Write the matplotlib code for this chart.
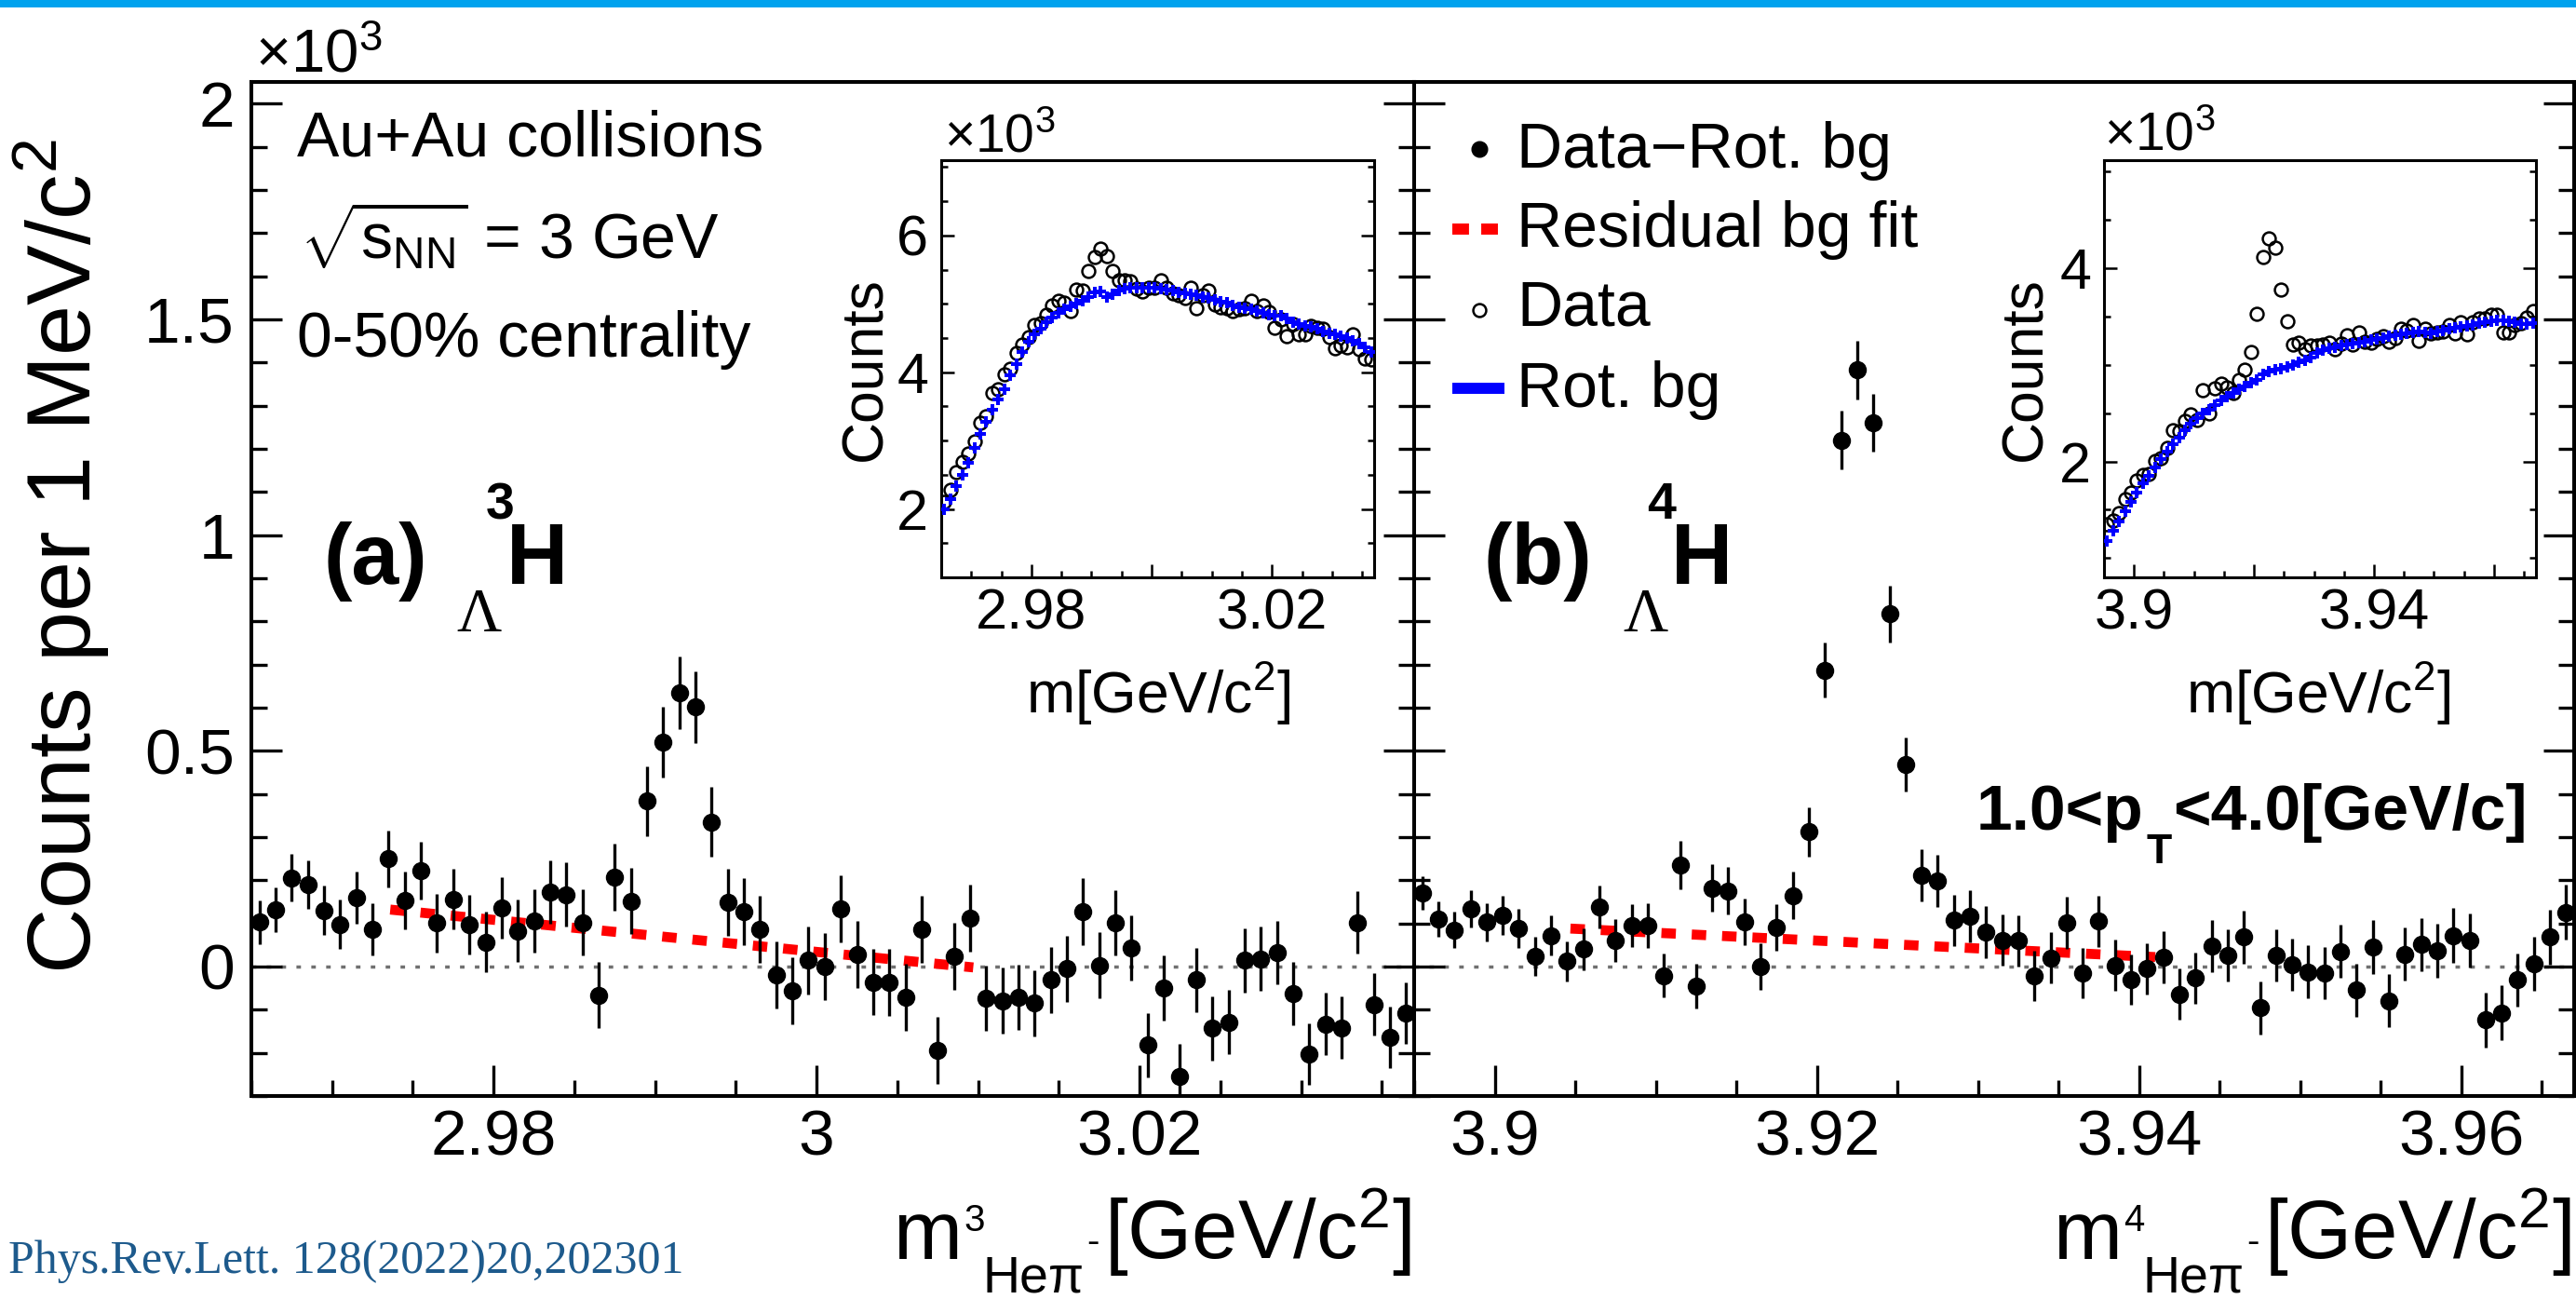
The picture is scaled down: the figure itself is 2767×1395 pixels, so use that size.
import numpy as np
import matplotlib
matplotlib.use("Agg")
import matplotlib.pyplot as plt
from matplotlib.ticker import MultipleLocator, FixedLocator, FixedFormatter
from matplotlib.lines import Line2D
from matplotlib.patches import Rectangle

plt.rcParams['font.family'] = ['Liberation Sans', 'DejaVu Sans']
plt.rcParams['mathtext.fontset'] = 'custom'
plt.rcParams['mathtext.rm'] = 'Liberation Sans'
plt.rcParams['mathtext.it'] = 'Liberation Sans:italic'
plt.rcParams['mathtext.bf'] = 'Liberation Sans:bold'
plt.rcParams['mathtext.sf'] = 'Liberation Sans'

# ---------------- data (counts x10^3, 1 MeV bins) ----------------
bin_width = 0.001
left_lo = 2.965
right_lo = 3.895
nbins = 72

resid_L = [0.103, 0.132, 0.206, 0.189, 0.130, 0.098, 0.160, 0.086, 0.250, 0.153,
           0.222, 0.101, 0.156, 0.097, 0.057, 0.136, 0.083, 0.105, 0.173, 0.167,
           0.102, -0.066, 0.207, 0.152, 0.383, 0.519, 0.634, 0.601, 0.335, 0.149,
           0.128, 0.087, -0.019, -0.056, 0.014, 0.000, 0.133, 0.028, -0.036, -0.037,
           -0.071, 0.086, -0.194, 0.024, 0.112, -0.074, -0.079, -0.071, -0.085, -0.031,
           -0.005, 0.127, 0.003, 0.101, 0.043, -0.182, -0.050, -0.255, -0.031, -0.143,
           -0.129, 0.014, 0.018, 0.032, -0.063, -0.203, -0.133, -0.142, 0.102, -0.088,
           -0.164, -0.108]
err_L = [0.051, 0.052, 0.055, 0.056, 0.057, 0.058, 0.060, 0.061, 0.066, 0.066,
         0.067, 0.068, 0.070, 0.070, 0.071, 0.071, 0.073, 0.073, 0.074, 0.074,
         0.076, 0.076, 0.077, 0.077, 0.080, 0.082, 0.084, 0.083, 0.081, 0.078,
         0.078, 0.078, 0.078, 0.078, 0.078, 0.078, 0.078, 0.077, 0.077, 0.077,
         0.077, 0.077, 0.077, 0.077, 0.077, 0.076, 0.076, 0.076, 0.076, 0.076,
         0.076, 0.077, 0.076, 0.076, 0.075, 0.075, 0.075, 0.076, 0.075, 0.074,
         0.074, 0.074, 0.074, 0.073, 0.073, 0.072, 0.072, 0.072, 0.072, 0.072,
         0.071, 0.072]

resid_R = [0.171, 0.109, 0.085, 0.134, 0.103, 0.119, 0.088, 0.024, 0.072, 0.012,
           0.040, 0.138, 0.061, 0.095, 0.095, -0.021, 0.235, -0.045, 0.182, 0.175,
           0.104, 0.000, 0.091, 0.165, 0.312, 0.687, 1.220, 1.383, 1.260, 0.817,
           0.468, 0.212, 0.198, 0.107, 0.117, 0.080, 0.061, 0.060, -0.021, 0.020,
           0.101, -0.015, 0.105, 0.003, -0.030, -0.005, 0.022, -0.064, -0.027, 0.047,
           0.026, 0.068, -0.096, 0.026, 0.004, -0.012, -0.015, 0.035, -0.055, 0.045,
           -0.079, 0.029, 0.051, 0.037, 0.072, 0.061, -0.124, -0.107, -0.031, 0.006,
           0.068, 0.126]
err_R = [0.039, 0.041, 0.042, 0.043, 0.044, 0.045, 0.045, 0.046, 0.047, 0.047,
         0.048, 0.049, 0.050, 0.050, 0.051, 0.051, 0.057, 0.052, 0.055, 0.055,
         0.054, 0.053, 0.054, 0.055, 0.058, 0.064, 0.068, 0.068, 0.067, 0.066,
         0.063, 0.060, 0.060, 0.059, 0.060, 0.060, 0.059, 0.059, 0.058, 0.059,
         0.060, 0.059, 0.060, 0.059, 0.059, 0.059, 0.060, 0.060, 0.060, 0.061,
         0.061, 0.061, 0.062, 0.061, 0.061, 0.061, 0.061, 0.061, 0.061, 0.062,
         0.062, 0.062, 0.062, 0.062, 0.063, 0.063, 0.063, 0.063, 0.062, 0.062,
         0.063, 0.063]

fit_L_x = [2.9736, 3.0097]
fit_L_y = [0.132, -0.002]
fit_R_x = [3.9047, 3.9410]
fit_R_y = [0.088, 0.022]

# inset: data (open circles) and rotated background (blue), counts x10^3
inset_data_L = [2.10, 2.28, 2.54, 2.69, 2.81, 2.99, 3.26, 3.36, 3.70, 3.75,
                3.97, 4.05, 4.28, 4.40, 4.51, 4.69, 4.72, 4.84, 4.97, 5.04,
                5.02, 4.89, 5.21, 5.19, 5.48, 5.69, 5.81, 5.70, 5.48, 5.35,
                5.35, 5.33, 5.22, 5.18, 5.24, 5.23, 5.35, 5.24, 5.15, 5.13,
                5.08, 5.23, 4.93, 5.12, 5.19, 4.99, 4.95, 4.94, 4.90, 4.92,
                4.94, 5.05, 4.90, 4.97, 4.88, 4.65, 4.77, 4.53, 4.70, 4.56,
                4.55, 4.67, 4.65, 4.63, 4.51, 4.35, 4.39, 4.36, 4.56, 4.33,
                4.20, 4.19]
inset_bg_L = [2.00, 2.15, 2.33, 2.50, 2.68, 2.89, 3.10, 3.27, 3.45, 3.60,
              3.75, 3.95, 4.12, 4.30, 4.45, 4.55, 4.64, 4.73, 4.80, 4.87,
              4.92, 4.96, 5.00, 5.04, 5.10, 5.17, 5.18, 5.10, 5.14, 5.20,
              5.22, 5.24, 5.24, 5.24, 5.23, 5.23, 5.22, 5.21, 5.19, 5.17,
              5.15, 5.14, 5.12, 5.10, 5.08, 5.06, 5.03, 5.01, 4.98, 4.95,
              4.94, 4.92, 4.90, 4.87, 4.84, 4.83, 4.82, 4.78, 4.73, 4.70,
              4.68, 4.66, 4.63, 4.60, 4.57, 4.55, 4.52, 4.50, 4.46, 4.42,
              4.36, 4.30]
inset_data_R = [1.35, 1.39, 1.47, 1.61, 1.68, 1.80, 1.86, 1.87, 2.01, 2.03,
                2.14, 2.32, 2.31, 2.42, 2.49, 2.43, 2.74, 2.50, 2.76, 2.81,
                2.77, 2.71, 2.84, 2.95, 3.13, 3.53, 4.12, 4.31, 4.21, 3.78,
                3.45, 3.21, 3.23, 3.16, 3.20, 3.20, 3.21, 3.23, 3.16, 3.22,
                3.31, 3.21, 3.34, 3.24, 3.23, 3.27, 3.30, 3.24, 3.28, 3.37,
                3.36, 3.41, 3.25, 3.37, 3.33, 3.34, 3.35, 3.41, 3.33, 3.44,
                3.32, 3.44, 3.48, 3.48, 3.52, 3.52, 3.34, 3.34, 3.41, 3.43,
                3.49, 3.56]
inset_bg_R = [1.18, 1.28, 1.38, 1.48, 1.58, 1.68, 1.77, 1.85, 1.94, 2.02,
              2.10, 2.18, 2.25, 2.32, 2.39, 2.45, 2.50, 2.54, 2.58, 2.63,
              2.67, 2.71, 2.75, 2.78, 2.82, 2.84, 2.90, 2.93, 2.95, 2.96,
              2.98, 3.00, 3.03, 3.05, 3.08, 3.12, 3.15, 3.17, 3.18, 3.20,
              3.21, 3.22, 3.23, 3.24, 3.26, 3.27, 3.28, 3.30, 3.31, 3.32,
              3.33, 3.34, 3.35, 3.34, 3.33, 3.35, 3.36, 3.37, 3.38, 3.39,
              3.40, 3.41, 3.43, 3.44, 3.45, 3.46, 3.46, 3.45, 3.44, 3.42,
              3.42, 3.43]

xt_L = [2.98, 3.00, 3.02]
xt_L_lab = ['2.98', '3', '3.02']
xt_R = [3.90, 3.92, 3.94, 3.96]
xt_R_lab = ['3.9', '3.92', '3.94', '3.96']
yt = [0, 0.5, 1, 1.5, 2]
yt_lab = ['0', '0.5', '1', '1.5', '2']

xL = left_lo + bin_width * (np.arange(nbins) + 0.5)
xR = right_lo + bin_width * (np.arange(nbins) + 0.5)

# ---------------- figure ----------------
W, H = 2767, 1395
fig = plt.figure(figsize=(W / 100, H / 100), dpi=100)
def fx(p): return p / W
def fy(p): return 1 - p / H
renderer = fig.canvas.get_renderer()

fig.add_artist(Rectangle((0, fy(8)), 1, 8 / H, transform=fig.transFigure,
                         color='#00a2ee', lw=0))

ax1 = fig.add_axes([fx(270), fy(1177), (1519 - 270) / W, (1177 - 88) / H])
ax2 = fig.add_axes([fx(1519), fy(1177), (2765 - 1519) / W, (1177 - 88) / H])

for ax, x, y, e, fxs, fys, lim, xt, xtl in [
        (ax1, xL, resid_L, err_L, fit_L_x, fit_L_y, (2.965, 3.037), xt_L, xt_L_lab),
        (ax2, xR, resid_R, err_R, fit_R_x, fit_R_y, (3.895, 3.967), xt_R, xt_R_lab)]:
    ax.axhline(0, color='#707070', lw=2.5, dashes=(1.4, 3.2), zorder=1)
    ax.plot(fxs, fys, color='red', lw=7.7, dashes=(1.45, 1.6),
            solid_capstyle='butt', dash_capstyle='butt', zorder=2)
    ax.errorbar(x, y, yerr=e, fmt='o', color='black', ms=13, elinewidth=2.4,
                capsize=0, zorder=3)
    ax.set_xlim(*lim)
    ax.set_ylim(-0.3, 2.05)
    ax.xaxis.set_major_locator(FixedLocator(xt))
    ax.xaxis.set_major_formatter(FixedFormatter(xtl))
    ax.xaxis.set_minor_locator(MultipleLocator(0.005))
    ax.yaxis.set_major_locator(FixedLocator(yt))
    ax.yaxis.set_major_formatter(FixedFormatter(yt_lab))
    ax.yaxis.set_minor_locator(MultipleLocator(0.1))
    ax.tick_params(which='both', direction='in', left=True, right=True,
                   top=False, bottom=True, width=2.4, labelsize=50)
    ax.tick_params(which='major', length=24)
    ax.tick_params(which='minor', length=12)
    ax.tick_params(axis='x', pad=10)
    ax.tick_params(axis='y', pad=13)
    for s in ax.spines.values():
        s.set_linewidth(2.9)
ax2.tick_params(labelleft=False)

# insets
axi1 = fig.add_axes([fx(1011), fy(620), 465 / W, 448 / H])
axi2 = fig.add_axes([fx(2260), fy(620), 464 / W, 448 / H])
for ax, x, d, b, lim, ylim, xt, xtl, ytk in [
        (axi1, xL, inset_data_L, inset_bg_L, (2.965, 3.037), (1.0, 7.1),
         [2.98, 3.00, 3.02], ['2.98', '', '3.02'], [2, 4, 6]),
        (axi2, xR, inset_data_R, inset_bg_R, (3.895, 3.967), (0.8, 5.12),
         [3.90, 3.92, 3.94, 3.96], ['3.9', '', '3.94', ''], [2, 4])]:
    ax.plot(x, d, 'o', mfc='none', mec='black', ms=10, mew=1.8, zorder=2)
    ax.plot(x, b, 'P', color='blue', ms=9, mew=0, zorder=3)
    ax.set_xlim(*lim)
    ax.set_ylim(*ylim)
    ax.xaxis.set_major_locator(FixedLocator(xt))
    ax.xaxis.set_major_formatter(FixedFormatter(xtl))
    ax.xaxis.set_minor_locator(MultipleLocator(0.005))
    ax.yaxis.set_major_locator(FixedLocator(ytk))
    ax.yaxis.set_major_formatter(FixedFormatter([str(v) for v in ytk]))
    ax.yaxis.set_minor_locator(MultipleLocator(0.5))
    ax.tick_params(which='both', direction='in', left=True, right=True,
                   top=False, bottom=True, width=1.8, labelsize=44)
    ax.tick_params(which='major', length=10)
    ax.tick_params(which='minor', length=5)
    ax.tick_params(axis='x', pad=8)
    ax.tick_params(axis='y', pad=10)
    for s in ax.spines.values():
        s.set_linewidth(2.2)

# ---------------- texts ----------------
def seq_text_right(x_right_px, pieces):
    """pieces: (string, fontsize, baseline_px, gap_after_px). Laid out left to right,
    whole group right-aligned at x_right_px."""
    arts, widths = [], []
    for s, fs, yb, gap in pieces:
        t = fig.text(0, fy(yb), s, fontsize=fs, ha='left', va='baseline')
        arts.append(t)
        widths.append(t.get_window_extent(renderer).width + gap)
    x = x_right_px - sum(widths) + pieces[-1][3]
    for t, w in zip(arts, widths):
        t.set_x(x / W)
        x += w

fig.text(fx(274), fy(77), r'$\mathregular{\times10^{3}}$', fontsize=47, va='baseline')
fig.text(fx(1014), fy(163), r'$\mathregular{\times10^{3}}$', fontsize=41, va='baseline')
fig.text(fx(2260), fy(162), r'$\mathregular{\times10^{3}}$', fontsize=41, va='baseline')

fig.text(fx(930), fy(396), 'Counts', fontsize=45, rotation=90, ha='center', va='center')
fig.text(fx(2176), fy(396), 'Counts', fontsize=45, rotation=90, ha='center', va='center')
fig.text(fx(1244), fy(745), r'm[GeV/c$^{2}$]', fontsize=45, ha='center', va='center')
fig.text(fx(2490), fy(745), r'm[GeV/c$^{2}$]', fontsize=45, ha='center', va='center')

fig.text(fx(66), fy(598), r'Counts per 1 MeV/c$^{2}$', fontsize=70, rotation=90,
         ha='center', va='center')

for xr, iso in [(1516, '3'), (2762, '4')]:
    seq_text_right(xr, [('m', 64, 1352, 2),
                        (iso, 29, 1322, -2),
                        ('He\u03c0', 40, 1388, 2),
                        ('-', 29, 1345, 6),
                        (r'[GeV/c$^{2}$]', 64, 1352, 0)])

fig.text(fx(319), fy(168), 'Au+Au collisions', fontsize=49, va='baseline')
fig.text(fx(322), fy(278), r'$\sqrt{\mathregular{s_{NN}}}$ = 3 GeV', fontsize=49, va='baseline')
fig.text(fx(319), fy(383), '0-50% centrality', fontsize=49, va='baseline')

for px_par, lab, px_sup, sup, px_lam, px_h in [(347, '(a)', 522, '3', 490, 544),
                                               (1594, '(b)', 1769, '4', 1743, 1795)]:
    fig.text(fx(px_par), fy(627), lab, fontsize=66, fontweight='bold', va='baseline')
    fig.text(fx(px_sup), fy(557), sup, fontsize=40, fontweight='bold', va='baseline')
    fig.text(fx(px_lam), fy(678), '\u039b', family='Liberation Serif', fontsize=48,
             va='baseline')
    fig.text(fx(px_h), fy(627), 'H', fontsize=66, fontweight='bold', va='baseline')

# pT label (laid out right to left)
t3 = fig.text(fx(2715), fy(891), '<4.0[GeV/c]', fontsize=50, fontweight='bold',
              ha='right', va='baseline')
bb = t3.get_window_extent(renderer)
t2 = fig.text((bb.x0 - 2) / W, fy(927), 'T', fontsize=32, fontweight='bold',
              ha='right', va='baseline')
bb2 = t2.get_window_extent(renderer)
fig.text((bb2.x0 - 3) / W, fy(891), '1.0<p', fontsize=50, fontweight='bold',
         ha='right', va='baseline')

# legend
leg_x0, leg_xm = 1560, 1589
fig.add_artist(Line2D([fx(leg_xm)], [fy(160)], marker='o', color='black', ms=12,
                      transform=fig.transFigure))
fig.add_artist(Line2D([fx(leg_x0), fx(1609)], [fy(246), fy(246)], color='red', lw=8.6,
                      dashes=(1.5, 1.1), dash_capstyle='butt', transform=fig.transFigure))
fig.add_artist(Line2D([fx(leg_xm)], [fy(333)], marker='o', mfc='none', mec='black',
                      ms=10, mew=1.8, transform=fig.transFigure))
fig.add_artist(Line2D([fx(leg_x0), fx(1616)], [fy(417), fy(417)], color='blue', lw=8.6,
                      solid_capstyle='butt', transform=fig.transFigure))
for yb, txt in [(180, 'Data\u2212Rot. bg'), (265, 'Residual bg fit'),
                (350, 'Data'), (437, 'Rot. bg')]:
    fig.text(fx(1629), fy(yb), txt, fontsize=49, va='baseline')

fig.text(fx(9), fy(1367), 'Phys.Rev.Lett. 128(2022)20,202301', family='Liberation Serif',
         fontsize=36, color='#1d5a8c', va='baseline')

fig.savefig('out.png', dpi=100)
